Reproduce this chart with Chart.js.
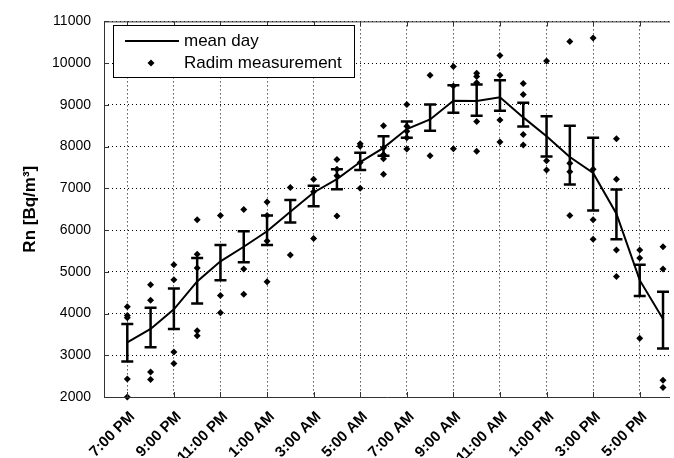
<!DOCTYPE html>
<html>
<head>
<meta charset="utf-8">
<script src="https://cdn.jsdelivr.net/npm/chart.js@4.4.0/dist/chart.umd.min.js"></script>
<style>
  body { margin: 0; background: #fff; }
  #wrap { width: 674px; height: 458px; }
</style>
</head>
<body>
<div id="wrap"><canvas id="rnChart" width="674" height="458"></canvas></div>
<script>
// hours counted from 7:00 PM
const hourIndex = [0, 1, 2, 3, 4, 5, 6, 7, 8, 9, 10, 11, 12, 13, 14, 15, 16, 17, 18, 19, 20, 21, 22, 23];
const tickHours = [0, 2, 4, 6, 8, 10, 12, 14, 16, 18, 20, 22];
const tickLabels = ['7:00 PM', '9:00 PM', '11:00 PM', '1:00 AM', '3:00 AM', '5:00 AM',
                    '7:00 AM', '9:00 AM', '11:00 AM', '1:00 PM', '3:00 PM', '5:00 PM'];

const meanDay = [3310, 3630, 4100, 4770, 5250, 5600, 5970, 6440, 6900, 7220, 7630, 7970,
                 8420, 8650, 9100, 9090, 9180, 8700, 8250, 7750, 7370, 6390, 4800, 3870];
const errHigh = [3750, 4140, 4600, 5330, 5640, 5970, 6350, 6720, 7060, 7460, 7850, 8250,
                 8600, 9010, 9470, 9490, 9590, 9050, 8730, 8500, 8210, 6970, 5170, 4520];
const errLow  = [2850, 3190, 3630, 4240, 4800, 5230, 5640, 6180, 6570, 6980, 7440, 7780,
                 8210, 8380, 8810, 8740, 8860, 8480, 7760, 7090, 6470, 5780, 4420, 3160];

const radimMeasurements = [
    [4160, 3950, 3900, 2430, 2000],
    [4690, 4320, 2600, 2420],
    [5170, 4810, 3080, 2800],
    [6250, 5420, 5090, 3590, 3470],
    [6350, 4430, 4020],
    [6490, 5070, 4460],
    [6670, 6350, 5740, 4760],
    [7020, 5400],
    [7220, 6920, 5800],
    [7690, 7460, 7300, 6340],
    [8070, 8010, 7620, 7000],
    [8500, 7970, 7810, 7710, 7340],
    [9010, 8490, 8370, 8210, 7940],
    [9710, 7780],
    [9920, 9450, 7950],
    [9760, 9680, 9530, 8600, 7890],
    [10180, 9710, 8640, 8110],
    [9510, 9250, 8290, 8040],
    [10050, 7660, 7440],
    [10520, 7600, 7400, 6350],
    [10600, 7460, 6250, 5780],
    [8190, 7220, 5520, 4890],
    [5520, 5330, 3410],
    [5600, 5070, 2400, 2230]
];

const meanPoints = hourIndex.map((h, i) => ({ x: h, y: meanDay[i] }));
const measurePoints = radimMeasurements.flatMap((vals, i) => vals.map(v => ({ x: hourIndex[i], y: v })));

// error bars, axis frame with inward ticks, and the boxed legend
const extras = {
    id: 'extras',
    afterDatasetsDraw(chart) {
        const { ctx, scales: { x, y } } = chart;
        ctx.save();
        ctx.strokeStyle = '#000';
        ctx.lineWidth = 2.5;
        hourIndex.forEach((h, i) => {
            const px = x.getPixelForValue(h);
            const top = y.getPixelForValue(errHigh[i]);
            const bot = y.getPixelForValue(errLow[i]);
            ctx.beginPath();
            ctx.moveTo(px, top); ctx.lineTo(px, bot);
            ctx.moveTo(px - 6, top); ctx.lineTo(px + 6, top);
            ctx.moveTo(px - 6, bot); ctx.lineTo(px + 6, bot);
            ctx.stroke();
        });
        ctx.restore();
    },
    afterDraw(chart) {
        const { ctx, chartArea: a, scales: { x, y } } = chart;
        ctx.save();
        ctx.strokeStyle = '#333';
        ctx.lineWidth = 1;
        ctx.beginPath();
        ctx.moveTo(a.right, a.top + 0.5); ctx.lineTo(a.left + 0.5, a.top + 0.5);
        ctx.lineTo(a.left + 0.5, a.bottom + 0.5); ctx.lineTo(a.right, a.bottom + 0.5);
        x.ticks.forEach(t => {
            const px = Math.round(x.getPixelForValue(t.value)) + 0.5;
            ctx.moveTo(px, a.bottom); ctx.lineTo(px, a.bottom - 5);
            ctx.moveTo(px, a.top); ctx.lineTo(px, a.top + 5);
        });
        y.ticks.forEach(t => {
            const py = Math.round(y.getPixelForValue(t.value)) + 0.5;
            ctx.moveTo(a.left, py); ctx.lineTo(a.left + 5, py);
        });
        ctx.stroke();

        // legend box
        const lx = 113.5, ly = 25.5, lw = 241, lh = 52;
        ctx.fillStyle = '#fff';
        ctx.fillRect(lx, ly, lw, lh);
        ctx.strokeStyle = '#000';
        ctx.strokeRect(lx, ly, lw, lh);
        ctx.lineWidth = 2;
        ctx.beginPath();
        ctx.moveTo(125, 41); ctx.lineTo(179, 41);
        ctx.stroke();
        ctx.fillStyle = '#000';
        ctx.beginPath();
        ctx.moveTo(151, 59.5); ctx.lineTo(154.5, 63); ctx.lineTo(151, 66.5); ctx.lineTo(147.5, 63);
        ctx.closePath();
        ctx.fill();
        ctx.font = '17px "Liberation Sans", Arial, sans-serif';
        ctx.textBaseline = 'middle';
        ctx.textAlign = 'left';
        ctx.fillText('mean day', 184, 41);
        ctx.fillText('Radim measurement', 184, 63);
        ctx.restore();
    }
};

new Chart(document.getElementById('rnChart'), {
    data: {
        datasets: [{
            type: 'line',
            label: 'mean day',
            data: meanPoints,
            borderColor: '#000',
            borderWidth: 2,
            pointRadius: 0,
            tension: 0,
            order: 1
        }, {
            type: 'scatter',
            label: 'Radim measurement',
            data: measurePoints,
            pointStyle: 'rectRot',
            pointRadius: 3.5,
            backgroundColor: '#000',
            borderWidth: 0,
            clip: false,
            order: 2
        }]
    },
    options: {
        responsive: false,
        animation: false,
        layout: { padding: { top: 17, right: 0, bottom: 0, left: 0 } },
        plugins: {
            legend: { display: false },
            tooltip: { enabled: false }
        },
        scales: {
            x: {
                type: 'linear',
                min: -1,
                max: 23.3,
                afterBuildTicks: s => { s.ticks = tickHours.map(v => ({ value: v })); },
                afterFit: s => { s.height = 61; },
                grid: { color: '#000', drawTicks: false },
                border: { display: false, dash: [1, 3] },
                ticks: {
                    minRotation: 45,
                    maxRotation: 45,
                    padding: 11,
                    labelOffset: 5,
                    color: '#000',
                    font: { family: '"Liberation Sans", Arial, sans-serif', size: 15, weight: 'bold' },
                    callback: v => tickLabels[tickHours.indexOf(v)]
                }
            },
            y: {
                min: 2000,
                max: 11000,
                afterFit: s => { s.width = 104; },
                grid: { color: '#000', drawTicks: false },
                border: { display: false, dash: [1, 3] },
                ticks: {
                    stepSize: 1000,
                    padding: 13,
                    color: '#000',
                    font: { family: '"Liberation Sans", Arial, sans-serif', size: 14 },
                    callback: v => String(v)
                },
                title: {
                    display: true,
                    text: 'Rn [Bq/m³]',
                    color: '#000',
                    padding: { top: 20, bottom: 0 },
                    font: { family: '"Liberation Sans", Arial, sans-serif', size: 17, weight: 'bold' }
                }
            }
        }
    },
    plugins: [extras]
});
</script>
</body>
</html>
